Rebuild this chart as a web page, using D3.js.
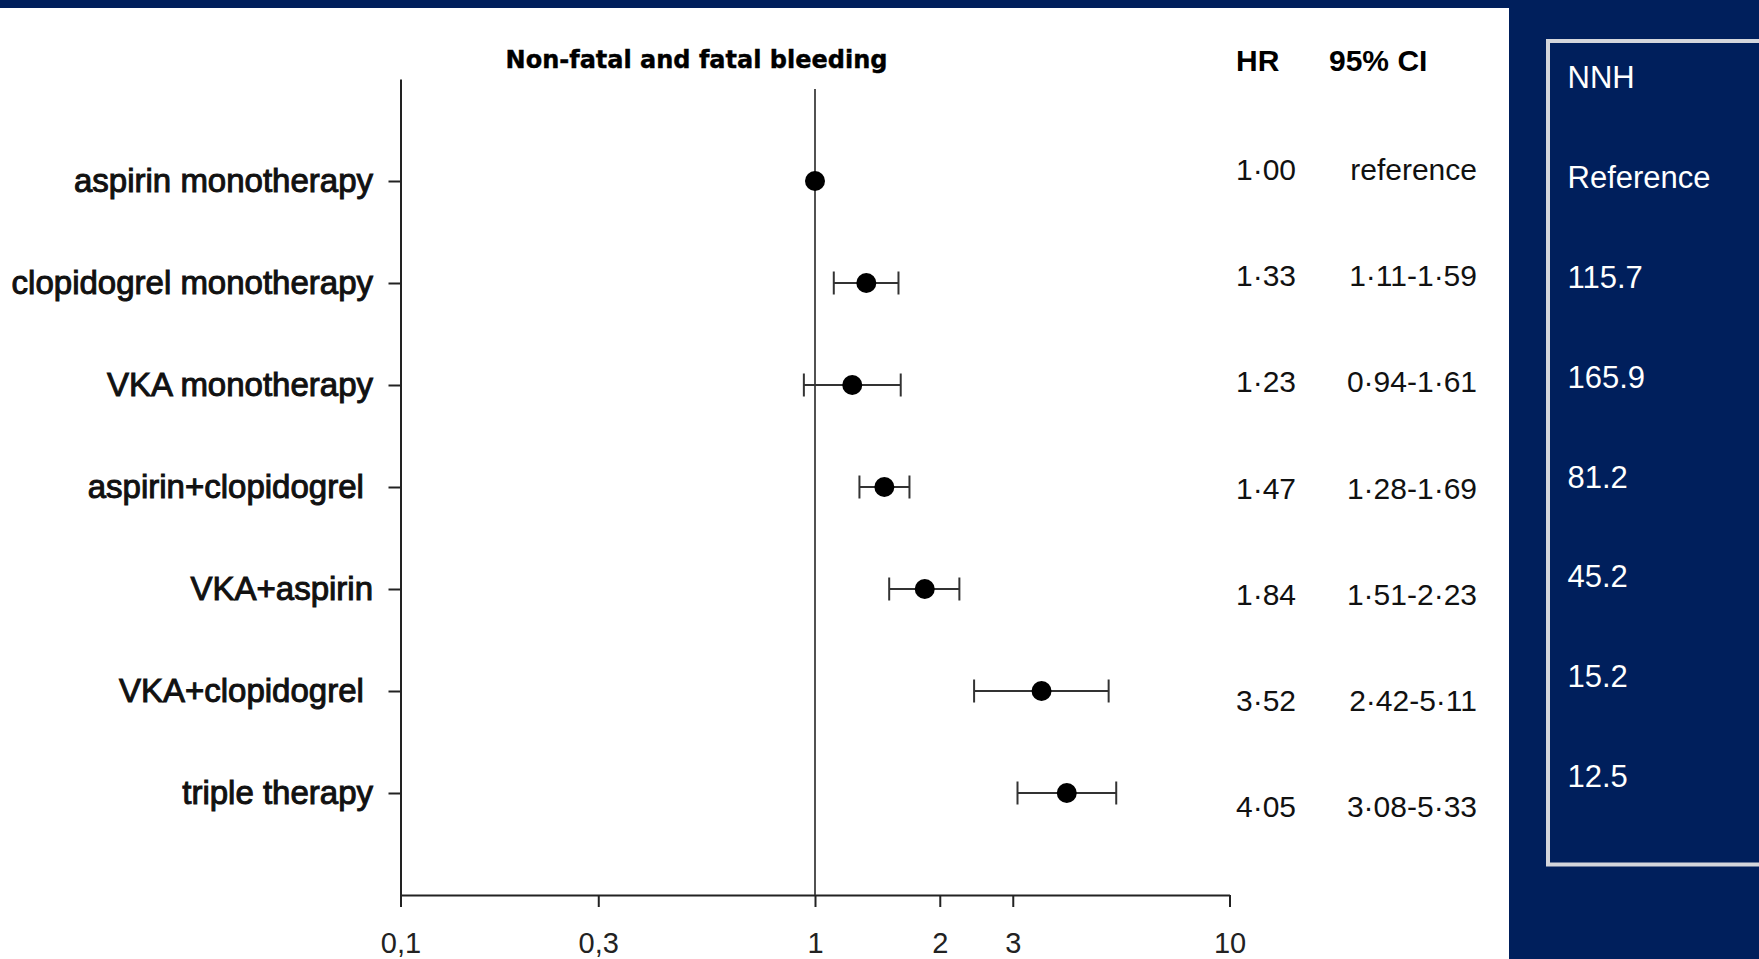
<!DOCTYPE html>
<html>
<head>
<meta charset="utf-8">
<script src="https://cdn.jsdelivr.net/npm/d3@7"></script>
<style>
  body { margin: 0; background: #fff; }
  svg { display: block; }
</style>
</head>
<body>
<div id="chart"></div>
<script>
// Treatment groups (trailing spaces kept as in the original slide)
const categories = [
  "aspirin monotherapy",
  "clopidogrel monotherapy",
  "VKA monotherapy",
  "aspirin+clopidogrel ",
  "VKA+aspirin",
  "VKA+clopidogrel ",
  "triple therapy"
];

// Hazard ratios and 95% CI
const hrValues = [1.00, 1.33, 1.23, 1.47, 1.84, 3.52, 4.05];
const ciLow = [null, 1.11, 0.94, 1.28, 1.51, 2.42, 3.08];
const ciHigh = [null, 1.59, 1.61, 1.69, 2.23, 5.11, 5.33];

// Table text
const hrLabels = ["1·00", "1·33", "1·23", "1·47", "1·84", "3·52", "4·05"];
const ciLabels = ["reference", "1·11-1·59", "0·94-1·61", "1·28-1·69", "1·51-2·23", "2·42-5·11", "3·08-5·33"];
const nnhLabels = ["Reference", "115.7", "165.9", "81.2", "45.2", "15.2", "12.5"];

// X axis ticks
const xTicks = [0.1, 0.3, 1, 2, 3, 10];
const xTickLabels = ["0,1", "0,3", "1", "2", "3", "10"];

const width = 1759;
const height = 959;
const navy = "#001f5c";
const ink = "#222";

const svg = d3.select("#chart")
  .append("svg")
  .attr("width", width)
  .attr("height", height);

// Backgrounds
svg.append("rect").attr("width", width).attr("height", height).attr("fill", "#fff");
svg.append("rect").attr("x", 0).attr("y", 0).attr("width", width).attr("height", 8).attr("fill", navy);
svg.append("rect").attr("x", 1509).attr("y", 0).attr("width", width - 1509).attr("height", height).attr("fill", navy);

// Scales
const x = d3.scaleLog().domain([0.1, 10]).range([400.5, 1229.5]);
const y = d3.scalePoint().domain(categories).range([79, 895]).padding(1);

// X axis
const xAxis = svg.append("g")
  .attr("transform", "translate(0,895)")
  .call(
    d3.axisBottom(x)
      .tickValues(xTicks)
      .tickFormat((d, i) => xTickLabels[i])
      .tickSize(12)
      .tickSizeOuter(0)
      .tickPadding(25)
  );
xAxis.select(".domain").attr("stroke", ink).attr("stroke-width", 2);
xAxis.selectAll(".tick line").attr("stroke", ink).attr("stroke-width", 2);
xAxis.selectAll(".tick text")
  .attr("fill", ink)
  .style("font-family", "'Liberation Sans', Arial, sans-serif")
  .style("font-size", "29px");

// Y axis
const yAxis = svg.append("g")
  .attr("transform", "translate(400.5,0)")
  .call(d3.axisLeft(y).tickSize(12).tickSizeOuter(0).tickPadding(15.5));
yAxis.select(".domain").attr("stroke", ink).attr("stroke-width", 2);
yAxis.selectAll(".tick line").attr("stroke", ink).attr("stroke-width", 2);
yAxis.selectAll(".tick text")
  .attr("fill", "#111")
  .attr("stroke", "#111")
  .attr("stroke-width", 1)
  .style("white-space", "pre")
  .style("font-family", "'Liberation Sans', Arial, sans-serif")
  .style("font-size", "33px");

// Reference line at HR = 1
svg.append("line")
  .attr("x1", x(1)).attr("x2", x(1))
  .attr("y1", 89).attr("y2", 895)
  .attr("stroke", "#333")
  .attr("stroke-width", 1.7);

// Rows of data
const rows = categories.map((c, i) => ({
  cat: c, hr: hrValues[i], lo: ciLow[i], hi: ciHigh[i],
  hrText: hrLabels[i], ciText: ciLabels[i], nnh: nnhLabels[i]
}));

// Error bars
const bars = svg.append("g").selectAll("g")
  .data(rows.filter((d) => d.lo !== null))
  .enter()
  .append("g")
  .attr("stroke", "#333")
  .attr("stroke-width", 2);
bars.append("line")
  .attr("x1", (d) => x(d.lo)).attr("x2", (d) => x(d.hi))
  .attr("y1", (d) => y(d.cat)).attr("y2", (d) => y(d.cat));
bars.append("line")
  .attr("x1", (d) => x(d.lo)).attr("x2", (d) => x(d.lo))
  .attr("y1", (d) => y(d.cat) - 11.5).attr("y2", (d) => y(d.cat) + 11.5);
bars.append("line")
  .attr("x1", (d) => x(d.hi)).attr("x2", (d) => x(d.hi))
  .attr("y1", (d) => y(d.cat) - 11.5).attr("y2", (d) => y(d.cat) + 11.5);

// Points
svg.append("g").selectAll("circle")
  .data(rows)
  .enter()
  .append("circle")
  .attr("cx", (d) => x(d.hr))
  .attr("cy", (d) => y(d.cat))
  .attr("r", 10)
  .attr("fill", "#000");

// Title
svg.append("text")
  .attr("x", 696.5)
  .attr("y", 68.3)
  .attr("text-anchor", "middle")
  .attr("fill", "#000")
  .attr("stroke", "#000")
  .attr("stroke-width", 0.4)
  .style("font-family", "'DejaVu Sans', sans-serif")
  .style("font-weight", "bold")
  .style("font-size", "24px")
  .text("Non-fatal and fatal bleeding");

// HR / CI table
const tableFont = "'Liberation Sans', Arial, sans-serif";
const tableY = d3.scalePoint().domain(categories).range([180, 817.3]);

svg.append("text")
  .attr("x", 1236).attr("y", 70.7)
  .attr("fill", "#000")
  .style("font-family", tableFont).style("font-weight", "bold").style("font-size", "30px")
  .text("HR");
svg.append("text")
  .attr("x", 1329).attr("y", 70.7)
  .attr("fill", "#000")
  .style("font-family", tableFont).style("font-weight", "bold").style("font-size", "30px")
  .text("95% CI");

svg.append("g").selectAll("text")
  .data(rows)
  .enter()
  .append("text")
  .attr("x", 1236)
  .attr("y", (d) => tableY(d.cat))
  .attr("fill", "#111")
  .style("font-family", tableFont)
  .style("font-size", "30px")
  .text((d) => d.hrText);

svg.append("g").selectAll("text")
  .data(rows)
  .enter()
  .append("text")
  .attr("x", 1477)
  .attr("y", (d) => tableY(d.cat))
  .attr("text-anchor", "end")
  .attr("fill", "#111")
  .style("font-family", tableFont)
  .style("font-size", "30px")
  .text((d) => d.ciText);

// NNH box on the navy panel
svg.append("rect")
  .attr("x", 1548).attr("y", 41)
  .attr("width", 300).attr("height", 823.5)
  .attr("fill", "none")
  .attr("stroke", "#d4d6dc")
  .attr("stroke-width", 4);

const nnhY = d3.scalePoint().domain(["NNH"].concat(categories)).range([88.3, 787]);

svg.append("g").selectAll("text")
  .data([{ cat: "NNH", nnh: "NNH" }].concat(rows))
  .enter()
  .append("text")
  .attr("x", 1567.5)
  .attr("y", (d) => nnhY(d.cat))
  .attr("fill", "#fff")
  .style("font-family", tableFont)
  .style("font-size", "31px")
  .text((d) => d.nnh);
</script>
</body>
</html>
